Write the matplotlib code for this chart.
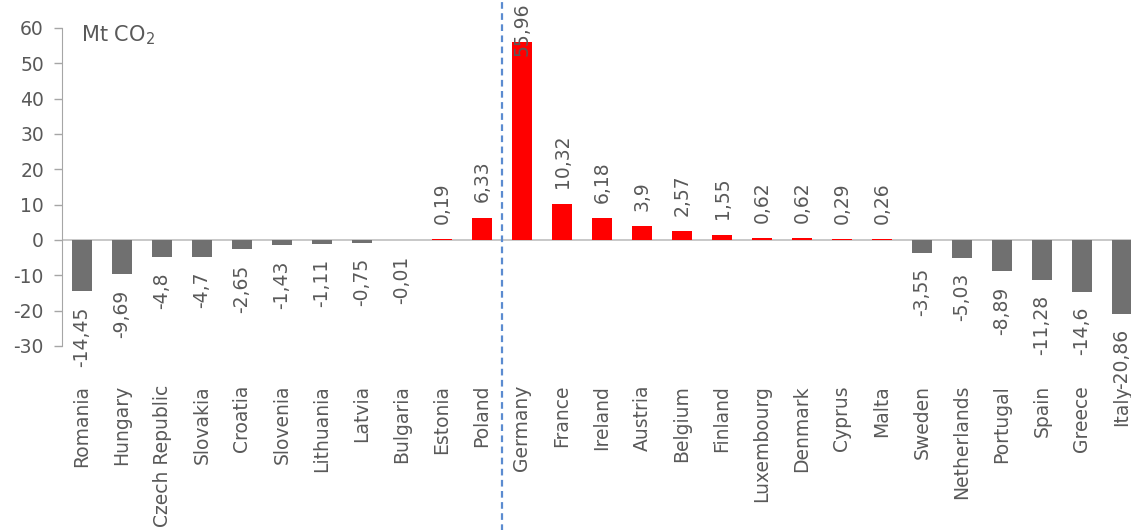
import matplotlib
matplotlib.use("Agg")
import matplotlib.pyplot as plt

# data (Mt CO2)
countries = ["Romania", "Hungary", "Czech Republic", "Slovakia", "Croatia", "Slovenia",
             "Lithuania", "Latvia", "Bulgaria", "Estonia", "Poland",
             "Germany", "France", "Ireland", "Austria", "Belgium", "Finland",
             "Luxembourg", "Denmark", "Cyprus", "Malta", "Sweden", "Netherlands",
             "Portugal", "Spain", "Greece", "Italy"]
values = [-14.45, -9.69, -4.8, -4.7, -2.65, -1.43, -1.11, -0.75, -0.01, 0.19, 6.33,
          55.96, 10.32, 6.18, 3.9, 2.57, 1.55, 0.62, 0.62, 0.29, 0.26,
          -3.55, -5.03, -8.89, -11.28, -14.6, -20.86]
yticks = [-30, -20, -10, 0, 10, 20, 30, 40, 50, 60]
split_after = "Poland"

text_col = "#595959"
fs = 13.5
plt.rcParams["font.family"] = ["DejaVu Sans"]

fig = plt.figure(figsize=(11.31, 5.30), dpi=100)
ax = fig.add_axes([62 / 1131, 1 - 346 / 530, 1080 / 1131, 318 / 530])

x = list(range(len(countries)))
colors = ["#FF0000" if v > 0 else "#707070" for v in values]
ax.bar(x, values, width=0.5, color=colors, zorder=2)

# value labels, outside end, decimal comma
for xi, v in zip(x, values):
    lab = ("%g" % v).replace(".", ",")
    if v > 50:
        # no room above the bar: label pushed down to sit inside the top of the figure
        ax.annotate(lab, (xi, 1.0), xycoords=("data", "figure fraction"),
                    xytext=(0, -2), textcoords="offset points",
                    rotation=90, ha="center", va="top", fontsize=fs,
                    color=text_col, zorder=4)
    elif v >= 0:
        ax.annotate(lab, (xi, v), xytext=(0, 11), textcoords="offset points",
                    rotation=90, ha="center", va="bottom", fontsize=fs,
                    color=text_col, annotation_clip=False)
    else:
        ax.annotate(lab, (xi, v), xytext=(0, -11), textcoords="offset points",
                    rotation=90, ha="center", va="top", fontsize=fs,
                    color=text_col, annotation_clip=False)

ax.set_xlim(-0.5, len(countries) - 0.5)
ax.set_ylim(-30, 60)
ax.set_yticks(yticks)
ax.set_yticklabels([str(t) for t in yticks])
ax.set_xticks(x)
ax.set_xticklabels(countries, rotation=90, va="top")

ax.axhline(0, color="#BFBFBF", lw=1.2, zorder=1)
sx = countries.index(split_after) + 0.5
ax.axvline(sx, ymin=-0.75, ymax=1.1, color="#5B8BD0", lw=1.6,
           linestyle=(0, (3, 2)), clip_on=False, zorder=3)

for s in ["top", "right", "bottom"]:
    ax.spines[s].set_visible(False)
ax.spines["left"].set_color("#A6A6A6")
ax.tick_params(axis="y", length=6, width=1, color="#A6A6A6", pad=7,
               labelsize=fs, labelcolor=text_col)
ax.tick_params(axis="x", length=0, pad=28, labelsize=fs, labelcolor=text_col)

ax.text(0.018, 1.015, r"Mt CO$_2$", transform=ax.transAxes, ha="left", va="top",
        fontsize=15, color=text_col)

fig.savefig("out.png", dpi=100)
